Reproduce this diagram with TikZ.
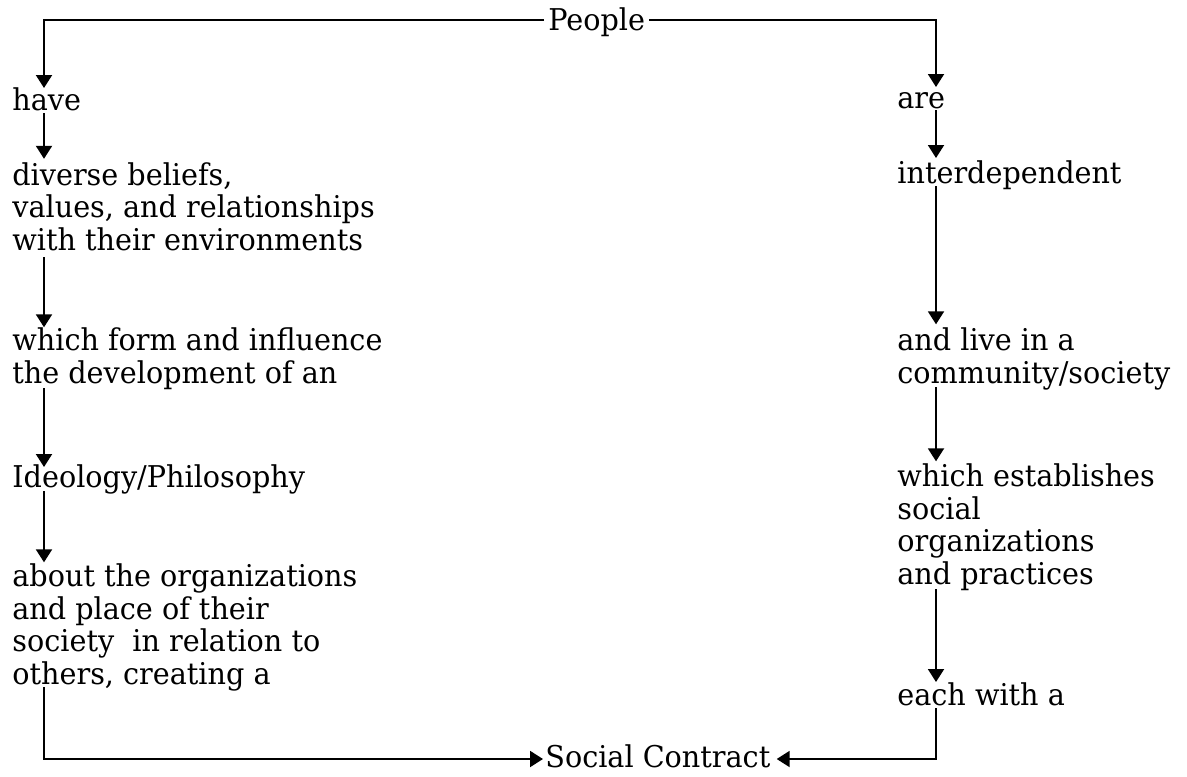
\documentclass[tikz,border=0pt]{standalone}
\usepackage{fontspec}
\setmainfont{DejaVu Serif}[FakeStretch=0.955]
\usetikzlibrary{arrows.meta,calc}
\begin{document}
\begin{tikzpicture}[x=0.5pt,y=-0.5pt,
  lbl/.style={anchor=base west, inner sep=0pt, align=left, text depth=0pt,
    font=\fontsize{15pt}{16.25pt}\selectfont},
  conn/.style={line width=1pt},
  arr/.style={conn, -{Triangle[length=6.5pt,width=8pt]}}]
\useasboundingbox (0,0) rectangle (1187,776);
\coordinate (colL) at (44,0);
\coordinate (colR) at (936,0);
% nodes (anchor = baseline of the last line)
\node[lbl] (people) at (548,30) {People};
\node[lbl] (have) at (12,110) {have};
\node[lbl] (div) at (12,250) {diverse beliefs,\\values, and relationships\\with their environments};
\node[lbl] (which) at (12,383) {which form and influence\\the development of an};
\node[lbl] (ideo) at (12,487) {Ideology/Philosophy};
\node[lbl] (about) at (12,684) {about the organizations\\and place of their\\society~ in relation to\\others, creating a};
\node[lbl] (are) at (897,108) {are};
\node[lbl] (inter) at (897,183) {interdependent};
\node[lbl] (live) at (897,383) {and live in a\\community/society};
\node[lbl] (estab) at (897,584) {which establishes\\social\\organizations\\and practices};
\node[lbl] (each) at (897,705) {each with a};
\node[lbl] (sc) at (545,767) {Social Contract};
% connectors
\draw[arr] ($(people.base west)+(-4,-10)$) -| ($(have.base -| colL)+(0,-22)$);
\draw[arr] ($(people.base east)+(4,-10)$) -| ($(are.base -| colR)+(0,-21)$);
\draw[arr] ($(have.base -| colL)+(0,3)$) -- ($(div.north -| colL)+(0,-3)$);
\draw[arr] ($(div.base -| colL)+(0,7)$) -- ($(which.north -| colL)+(0,0)$);
\draw[arr] ($(which.base -| colL)+(0,5)$) -- ($(ideo.base -| colL)+(0,-20)$);
\draw[arr] ($(ideo.base -| colL)+(0,4)$) -- ($(about.north -| colL)+(0,-1)$);
\draw[arr] ($(about.base -| colL)+(0,3)$) |- ($(sc.base west)+(-2,-8)$);
\draw[arr] ($(are.base -| colR)+(0,2)$) -- ($(inter.base -| colR)+(0,-25)$);
\draw[arr] ($(inter.base -| colR)+(0,3)$) -- ($(live.north -| colR)+(0,-3)$);
\draw[arr] ($(live.base -| colR)+(0,4)$) -- ($(estab.north -| colR)+(0,-2)$);
\draw[arr] ($(estab.base -| colR)+(0,5)$) -- ($(each.base -| colR)+(0,-23)$);
\draw[arr] ($(each.base -| colR)+(0,3)$) |- ($(sc.base east)+(6,-8)$);
\end{tikzpicture}
\end{document}
